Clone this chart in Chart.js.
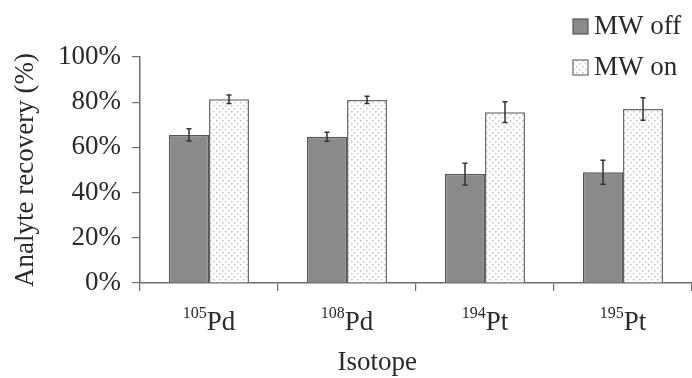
<!DOCTYPE html>
<html><head><meta charset="utf-8">
<script src="https://cdn.jsdelivr.net/npm/chart.js@4"></script>
<style>html,body{margin:0;padding:0;background:#fff}#wrap{width:692px;height:378px;position:relative}</style>
</head><body><div id="wrap"><canvas id="c"></canvas></div>
<script>
const massNumbers = ['105', '108', '194', '195'];
const elements = ['Pd', 'Pd', 'Pt', 'Pt'];
const categories = massNumbers.map((m, i) => m + elements[i]);
const seriesNames = ['MW off', 'MW on'];
const mwOff = [65.5, 64.7, 48.2, 49.0];
const mwOffErr = [2.7, 2.0, 4.8, 5.3];
const mwOn = [81.3, 81.0, 75.6, 77.0];
const mwOnErr = [1.9, 1.6, 4.6, 5.0];
const yTicks = [0, 20, 40, 60, 80, 100];
const xTitle = 'Isotope';
const yTitle = 'Analyte recovery (%)';

const FONT = '"Liberation Serif", "Times New Roman", serif';
const TXT = '#2a2a2a';
const AXIS = '#6e6e6e';

function dotPattern() {
  const c = document.createElement('canvas');
  c.width = 6; c.height = 6;
  const g = c.getContext('2d');
  g.fillStyle = '#ffffff'; g.fillRect(0, 0, 6, 6);
  g.fillStyle = '#c2c2c2';
  g.fillRect(0, 0, 1.5, 1.5);
  g.fillRect(3, 3, 1.5, 1.5);
  return g.createPattern(c, 'repeat');
}
const lightFill = dotPattern();
const darkFill = '#8a8a8a';

const errors = [mwOffErr, mwOnErr];

const errorBars = {
  id: 'errorBars',
  afterDatasetsDraw(chart) {
    const ctx = chart.ctx, y = chart.scales.y;
    ctx.save();
    ctx.strokeStyle = '#333';
    ctx.lineWidth = 1.5;
    chart.data.datasets.forEach((ds, di) => {
      const meta = chart.getDatasetMeta(di);
      meta.data.forEach((bar, i) => {
        const v = ds.data[i], e = errors[di][i];
        const yt = y.getPixelForValue(v + e), yb = y.getPixelForValue(v - e);
        ctx.beginPath();
        ctx.moveTo(bar.x, yt); ctx.lineTo(bar.x, yb);
        ctx.moveTo(bar.x - 2.5, yt); ctx.lineTo(bar.x + 2.5, yt);
        ctx.moveTo(bar.x - 2.5, yb); ctx.lineTo(bar.x + 2.5, yb);
        ctx.stroke();
      });
    });
    ctx.restore();
  }
};

const labelsAndLegend = {
  id: 'labelsAndLegend',
  afterDraw(chart) {
    const ctx = chart.ctx, xs = chart.scales.x, area = chart.chartArea;
    ctx.save();
    ctx.fillStyle = TXT;
    ctx.textBaseline = 'alphabetic';
    ctx.textAlign = 'left';
    // x tick labels with superscript mass numbers
    const big = '27px ' + FONT, small = '16px ' + FONT;
    categories.forEach((c, i) => {
      const cx = xs.getPixelForTick(i);
      ctx.font = small; const w1 = ctx.measureText(massNumbers[i]).width;
      ctx.font = big; const w2 = ctx.measureText(elements[i]).width;
      const x0 = cx - (w1 + w2) / 2;
      const base = xs.top + 47;
      ctx.font = small; ctx.fillText(massNumbers[i], x0, base - 12);
      ctx.font = big; ctx.fillText(elements[i], x0 + w1, base);
    });
    // x axis title
    ctx.font = big;
    ctx.textAlign = 'center';
    ctx.fillText(xTitle, area.left + (area.right - area.left) * 0.43, xs.top + 87);
    // legend
    ctx.textAlign = 'left';
    ctx.textBaseline = 'middle';
    chart.data.datasets.forEach((ds, di) => {
      const cy = area.top - 31 + di * 41;
      const bx = area.right - 119;
      ctx.fillStyle = ds.backgroundColor;
      ctx.fillRect(bx, cy - 7, 15, 15);
      ctx.strokeStyle = ds.borderColor; ctx.lineWidth = 1.2;
      ctx.strokeRect(bx, cy - 7, 15, 15);
      ctx.fillStyle = TXT;
      ctx.font = big;
      ctx.fillText(ds.label, bx + 21, cy + 1);
    });
    ctx.restore();
  }
};

new Chart(document.getElementById('c'), {
  type: 'bar',
  data: {
    labels: categories,
    datasets: [
      { label: seriesNames[0], data: mwOff, backgroundColor: darkFill, borderColor: '#555', borderWidth: 1.5,
        categoryPercentage: 0.58, barPercentage: 1.0 },
      { label: seriesNames[1], data: mwOn, backgroundColor: lightFill, borderColor: '#6a6a6a', borderWidth: 1.5,
        categoryPercentage: 0.58, barPercentage: 1.0 }
    ]
  },
  options: {
    responsive: true,
    maintainAspectRatio: false,
    animation: false,
    devicePixelRatio: 1,
    layout: { padding: { top: 57, right: 0, left: 0, bottom: 0 } },
    plugins: { legend: { display: false }, tooltip: { enabled: false } },
    scales: {
      x: {
        grid: { offset: true, drawOnChartArea: false, drawTicks: true, tickLength: 8, color: AXIS, lineWidth: 1.2 },
        border: { color: AXIS, width: 1.5 },
        ticks: { display: false },
        afterFit(s) { s.height = 95; }
      },
      y: {
        min: 0, max: 100,
        afterBuildTicks(s) { s.ticks = yTicks.map(v => ({ value: v })); },
        grid: { drawOnChartArea: false, drawTicks: true, tickLength: 8, color: AXIS, lineWidth: 1.2 },
        border: { color: AXIS, width: 1.5 },
        ticks: { color: TXT, font: { family: FONT, size: 27 }, padding: 11, callback: v => v + '%' },
        title: { display: true, text: yTitle, color: TXT, font: { family: FONT, size: 27 }, padding: { top: 10, bottom: 0 } },
        afterFit(s) { s.width = 140; }
      }
    }
  },
  plugins: [errorBars, labelsAndLegend]
});
</script>
</body></html>
